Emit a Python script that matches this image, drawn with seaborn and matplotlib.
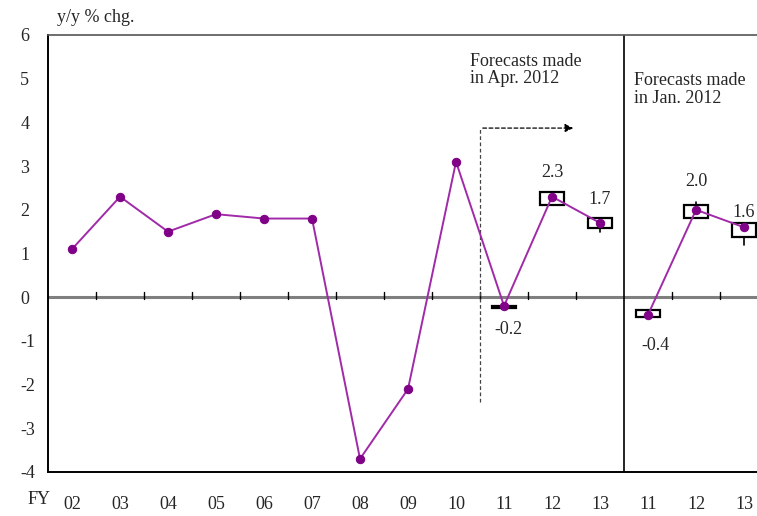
import numpy as np
import matplotlib
matplotlib.use("Agg")
import matplotlib.pyplot as plt
from matplotlib.patches import Rectangle
import pandas as pd
import seaborn as sns

# actual + forecast (Apr. 2012) and forecast (Jan. 2012)
years_apr = ['02', '03', '04', '05', '06', '07', '08', '09', '10', '11', '12', '13']
vals_apr = [1.1, 2.3, 1.5, 1.9, 1.8, 1.8, -3.7, -2.1, 3.1, -0.2, 2.3, 1.7]
years_jan = ['11', '12', '13']
vals_jan = [-0.4, 2.0, 1.6]

# forecast ranges: box low/high, whisker low/high
box_apr_lo = [-0.25, 2.10, 1.58]
box_apr_hi = [-0.20, 2.40, 1.81]
wh_apr_lo = [-0.25, 2.10, 1.49]
wh_apr_hi = [-0.20, 2.40, 1.81]
box_jan_lo = [-0.46, 1.81, 1.37]
box_jan_hi = [-0.30, 2.10, 1.69]
wh_jan_lo = [-0.46, 1.81, 1.19]
wh_jan_hi = [-0.30, 2.17, 1.69]

sns.set_style("white")
plt.rcParams['font.family'] = ['Liberation Serif', 'DejaVu Serif']

line_c = '#a02aa8'
dot_c = '#800088'

n_apr = len(years_apr)
x_apr = np.arange(n_apr)
x_jan = np.arange(n_apr, n_apr + len(years_jan))
df_apr = pd.DataFrame({'x': x_apr, 'y': vals_apr})
df_jan = pd.DataFrame({'x': x_jan, 'y': vals_jan})

fig = plt.figure(figsize=(7.57, 5.16), dpi=100)
ax = fig.add_axes([48 / 757, 44 / 516, 1 - 48 / 757, (472 - 35) / 516])

ax.axhline(0, color='#7f7f7f', lw=2.2, zorder=1)

sns.lineplot(data=df_apr, x='x', y='y', ax=ax, color=line_c, lw=1.4,
             marker='o', markersize=6, markerfacecolor=dot_c,
             markeredgecolor=dot_c, zorder=4)
sns.lineplot(data=df_jan, x='x', y='y', ax=ax, color=line_c, lw=1.4,
             marker='o', markersize=6, markerfacecolor=dot_c,
             markeredgecolor=dot_c, zorder=4)

# forecast range boxes
xs_fc = list(x_apr[-3:]) + list(x_jan)
lo = box_apr_lo + box_jan_lo
hi = box_apr_hi + box_jan_hi
wlo = wh_apr_lo + wh_jan_lo
whi = wh_apr_hi + wh_jan_hi
bw = 0.5
for xc, l, h, wl, wh in zip(xs_fc, lo, hi, wlo, whi):
    ax.add_patch(Rectangle((xc - bw / 2, l), bw, h - l, facecolor='white',
                           edgecolor='black', lw=1.6, zorder=3))
    ax.plot([xc, xc], [wl, l], color='black', lw=1.2, zorder=2)
    ax.plot([xc, xc], [h, wh], color='black', lw=1.2, zorder=2)

# small ticks on the zero line at category boundaries
for b in np.arange(0.5, n_apr + len(years_jan) - 1, 1.0):
    if b == n_apr - 0.5:
        continue
    ax.plot([b, b], [-0.05, 0.12], color='black', lw=1, zorder=2)

# separator between forecast vintages
ax.axvline(n_apr - 0.5, color='black', lw=1.2, zorder=2)

# dashed arrow marking the forecast period
ax.plot([8.5, 8.5], [-2.4, 3.87], color='#444444', lw=0.9, ls=(0, (3, 2)))
ax.annotate('', xy=(10.5, 3.87), xytext=(8.5, 3.87),
            arrowprops=dict(arrowstyle='-|>', color='black', lw=0.9,
                            ls=(0, (3, 2)), mutation_scale=12))

fs = 13
# value labels
ax.text(10, 2.65, '2.3', ha='center', va='bottom', fontsize=fs)
ax.text(11, 2.05, '1.7', ha='center', va='bottom', fontsize=fs)
ax.text(9.1, -0.55, '-0.2', ha='center', va='top', fontsize=fs)
ax.text(13, 2.45, '2.0', ha='center', va='bottom', fontsize=fs)
ax.text(14.0, 1.75, '1.6', ha='center', va='bottom', fontsize=fs)
ax.text(12.15, -0.9, '-0.4', ha='center', va='top', fontsize=fs)

ax.text(8.3, 5.2, 'Forecasts made\nin Apr. 2012', ha='left', va='center',
        fontsize=fs, linespacing=1.05)
ax.text(11.7, 4.75, 'Forecasts made\nin Jan. 2012', ha='left', va='center',
        fontsize=fs, linespacing=1.05)

ax.set_xlim(-0.5, 14.27)
ax.set_ylim(-4, 6)
ax.set_yticks(range(-4, 7))
ax.set_yticklabels([str(v) for v in range(-4, 7)], fontsize=fs)
ax.set_xticks(list(x_apr) + list(x_jan))
ax.set_xticklabels(years_apr + years_jan, fontsize=fs)
ax.tick_params(axis='x', length=0, pad=17)
ax.tick_params(axis='y', length=0, pad=20)
for lab in ax.get_yticklabels():
    lab.set_horizontalalignment('left')
ax.set_xlabel('')
ax.set_ylabel('')

for s in ['left', 'bottom']:
    ax.spines[s].set_color('black')
    ax.spines[s].set_linewidth(1.4)
ax.spines['top'].set_color('#555555')
ax.spines['top'].set_linewidth(1.2)
ax.spines['right'].set_visible(False)

fig.text(28 / 757, 1 - 500 / 516, 'FY', ha='left', va='center', fontsize=fs)
fig.text(57 / 757, 1 - 18 / 516, 'y/y % chg.', ha='left', va='center', fontsize=fs)

fig.savefig('out.png', dpi=100)
